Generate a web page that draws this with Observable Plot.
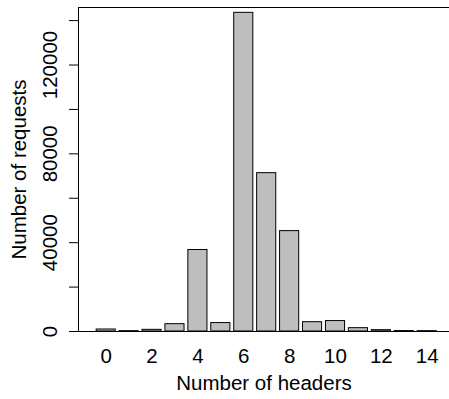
<!DOCTYPE html>
<html>
<head>
<meta charset="utf-8">
<script src="https://cdn.jsdelivr.net/npm/d3@7"></script>
<script src="https://cdn.jsdelivr.net/npm/@observablehq/plot@0.6"></script>
<style>
  html, body { margin: 0; padding: 0; background: white; }
  svg { display: block; }
</style>
</head>
<body>
<div id="chart"></div>
<script>
const headers = [0, 1, 2, 3, 4, 5, 6, 7, 8, 9, 10, 11, 12, 13, 14];
const requests = [900, 150, 750, 3300, 36700, 3800, 143500, 71300, 45200, 4200, 4700, 1500, 600, 200, 150];
const yTicks = [0, 20000, 40000, 60000, 80000, 100000, 120000, 140000];
const yTickLabels = [0, 40000, 80000, 120000];
const xTickLabels = [0, 2, 4, 6, 8, 10, 12, 14];
const xTitle = "Number of headers";
const yTitle = "Number of requests";

const data = headers.map((h, i) => ({h, n: requests[i]}));

const chart = Plot.plot({
  width: 449,
  height: 399,
  marginLeft: 78,
  marginTop: 7,
  marginBottom: 68,
  marginRight: 0,
  style: {fontFamily: "'Liberation Sans', Arial, Helvetica, sans-serif", fontSize: "20.5px", background: "white", color: "black"},
  x: {type: "band", domain: headers, range: [78, 454.4], round: false, paddingInner: 1/6, paddingOuter: 0.79, axis: null},
  y: {domain: [0, 145900], axis: null},
  marks: [
    Plot.barY(data, {x: "h", y: "n", fill: "#bebebe", stroke: "black", strokeWidth: 1}),
    Plot.frame({anchor: "top", stroke: "black"}),
    Plot.frame({anchor: "left", stroke: "black"}),
    Plot.frame({anchor: "bottom", stroke: "black"}),
    Plot.axisY(yTicks, {tickSize: 9, tickFormat: () => "", label: null}),
    Plot.axisY(yTickLabels, {tickSize: 0, tickPadding: 28, tickRotate: -90, textAnchor: "middle", lineAnchor: "middle", tickFormat: d => String(d), label: null}),
    Plot.axisX(xTickLabels, {tickSize: 0, tickPadding: 17, tickFormat: d => String(d), label: null}),
    Plot.text([xTitle], {frameAnchor: "bottom", dy: 52, textAnchor: "middle", lineAnchor: "middle"}),
    Plot.text([yTitle], {frameAnchor: "left", dx: -59, rotate: -90, textAnchor: "middle", lineAnchor: "middle"})
  ]
});
document.getElementById("chart").appendChild(chart);
</script>
</body>
</html>
